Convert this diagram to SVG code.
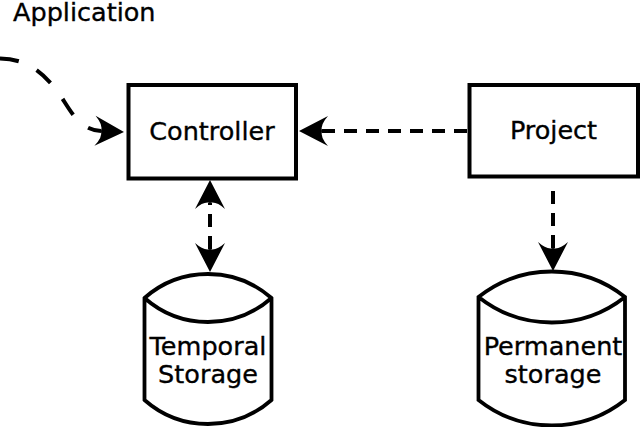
<svg xmlns="http://www.w3.org/2000/svg" width="641" height="427" viewBox="0 0 641 427">
<style>
  .box{fill:#fff;stroke:#000;stroke-width:4}
  .cyl{fill:#fff;stroke:#000;stroke-width:3.8;stroke-linejoin:miter}
  .lbl{font-family:"DejaVu Sans",sans-serif;font-size:25.5px;fill:#000;stroke:#000;stroke-width:0.35}
  .mid{text-anchor:middle}
  .conn{fill:none;stroke:#000;stroke-width:4;stroke-dasharray:13 9}
</style>
<defs>
  <marker id="arr" markerUnits="userSpaceOnUse" viewBox="-8 -16 32 32" markerWidth="32" markerHeight="32" refX="0" refY="0" orient="auto-start-reverse" overflow="visible">
    <path d="M23,0 L-6,-15 Q2,-6 0,0 Q2,6 -6,15 Z" fill="#000"/>
  </marker>
</defs>
<text class="lbl" x="13" y="21">Application</text>
<g id="connectors">
  <path class="conn" style="stroke-dasharray:19 20" d="M0,58.5 C25,59 40,70 55,88 C68,104 76,130 101,131" marker-end="url(#arr)"/>
  <path class="conn" d="M467,131 L322,131" marker-end="url(#arr)"/>
  <path class="conn" d="M210,249 L210,203" marker-start="url(#arr)" marker-end="url(#arr)"/>
  <path class="conn" d="M553,191 L553,248" marker-end="url(#arr)"/>
</g>
<g id="controller">
  <rect class="box" x="128.5" y="85" width="167.5" height="93.5"/>
  <text class="lbl mid" x="212" y="140">Controller</text>
</g>
<g id="project">
  <rect class="box" x="469.5" y="85" width="168.5" height="91.5"/>
  <text class="lbl mid" x="553.5" y="139">Project</text>
</g>
<g id="temporal">
  <path class="cyl" d="M144.5,298 A96,96 0 0 1 271.5,298 L271.5,400 A96,96 0 0 1 144.5,400 Z M144.5,298 A96,96 0 0 0 271.5,298"/>
  <text class="lbl mid" x="208" y="355">Temporal</text>
  <text class="lbl mid" x="208" y="383">Storage</text>
</g>
<g id="permanent">
  <path class="cyl" d="M478.5,297 A118,118 0 0 1 625,297 L625,400 A118,118 0 0 1 478.5,400 Z M478.5,297 A118,118 0 0 0 625,297"/>
  <text class="lbl mid" x="553" y="355">Permanent</text>
  <text class="lbl mid" x="553" y="383">storage</text>
</g>
</svg>
